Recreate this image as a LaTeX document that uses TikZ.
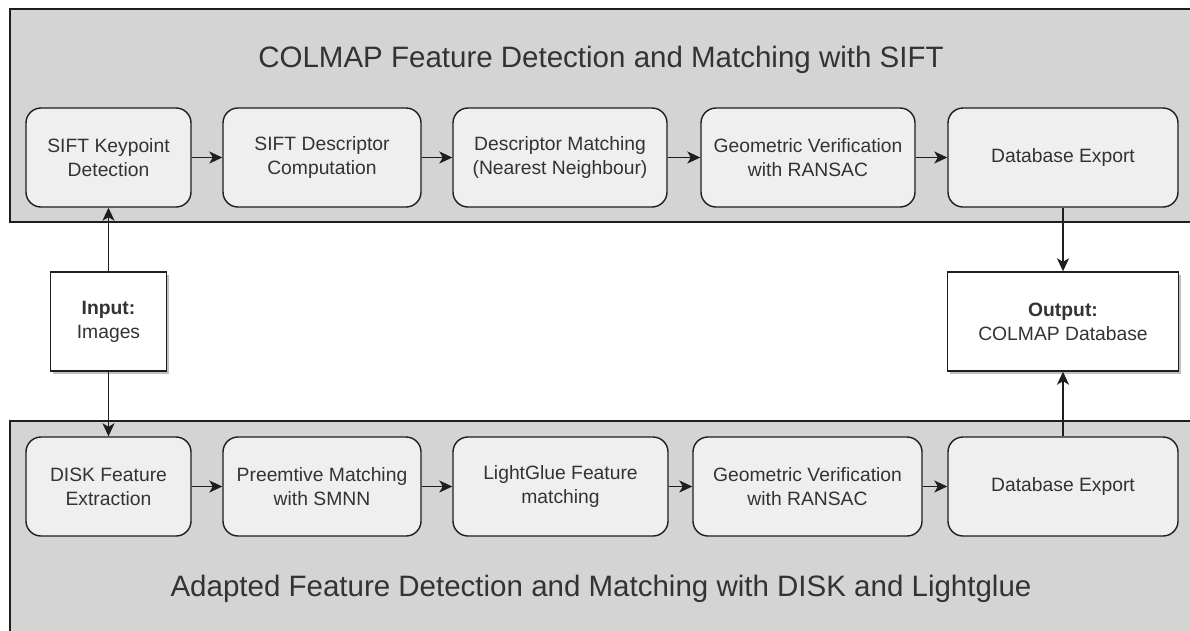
\documentclass[tikz,border=0pt]{standalone}
\usepackage{fontspec}
\setmainfont{Liberation Sans}
\usetikzlibrary{arrows.meta,shadows}
\definecolor{panelgray}{HTML}{D4D4D4}
\definecolor{boxfill}{HTML}{EFEFEF}
\definecolor{edgeink}{HTML}{1E1E1E}
\definecolor{ink}{HTML}{333333}

\begin{document}
\begin{tikzpicture}[x=1pt,y=-1pt,
  stage/.style={draw=edgeink, line width=1.4pt, fill=boxfill, rounded corners=15pt,
    align=center, text=ink, font=\fontsize{19.3}{24}\selectfont,
    inner sep=0pt, minimum height=99pt},
  iobox/.style={draw=edgeink, line width=1.4pt, fill=white,
    align=center, text=ink, font=\fontsize{19.3}{24}\selectfont,
    inner sep=0pt, minimum height=99pt,
    drop shadow={shadow xshift=2.5pt, shadow yshift=-2.5pt, opacity=0.25, fill=black}},
  panel/.style={draw=edgeink, line width=1.4pt, fill=panelgray},
  flow/.style={draw=edgeink, line width=1.6pt, -{Stealth[length=13pt,width=12pt,inset=3.5pt]}},
  paneltitle/.style={text=ink, font=\fontsize{29.5}{36}\selectfont, anchor=base, inner sep=0pt}
]
\useasboundingbox (0,0) rectangle (1190,630);

% the two grouping panels run past the right and bottom edges
\begin{scope}
  \clip (0,0) rectangle (1190,630);
  \draw[panel] (10,9) rectangle (1210,222);
  \draw[panel] (10,421) rectangle (1210,650);
\end{scope}

\node[paneltitle] (ttop) at (601,67) {COLMAP Feature Detection and Matching with SIFT};
\node[paneltitle] (tbot) at (601,596) {Adapted Feature Detection and Matching with DISK and Lightglue};

% COLMAP pipeline
\node[stage, minimum width=165pt] (sk)  at (108.5,157.5) {SIFT Keypoint\\Detection};
\node[stage, minimum width=198pt] (sd)  at (322,157.5)   {SIFT Descriptor\\Computation};
\node[stage, minimum width=214pt] (dm)  at (560,157.5)   {Descriptor Matching\\(Nearest Neighbour)};
\node[stage, minimum width=214pt] (gv1) at (808,157.5)   {Geometric Verification\\with RANSAC};
\node[stage, minimum width=230pt] (de1) at (1063,157.5)  {Database Export};

% adapted pipeline
\node[stage, minimum width=165pt] (dk)  at (108.5,486.5) {DISK Feature\\Extraction};
\node[stage, minimum width=198pt] (pm)  at (322,486.5)   {Preemtive Matching\\with SMNN};
\node[stage, minimum width=215pt] (lg)  at (560.5,486.5) {LightGlue Feature\\matching};
\node[stage, minimum width=229pt] (gv2) at (807.5,486.5) {Geometric Verification\\with RANSAC};
\node[stage, minimum width=230pt] (de2) at (1063,486.5)  {Database Export};

% input and output
\node[iobox, minimum width=116pt] (in)  at (108.5,321.5) {\textbf{Input:}\\Images};
\node[iobox, minimum width=231pt] (out) at (1063,321.5)  {\textbf{Output:}\\COLMAP Database};

\draw[flow] (sk.east) -- (sd.west);
\draw[flow] (sd.east) -- (dm.west);
\draw[flow] (dm.east) -- (gv1.west);
\draw[flow] (gv1.east) -- (de1.west);

\draw[flow] (dk.east) -- (pm.west);
\draw[flow] (pm.east) -- (lg.west);
\draw[flow] (lg.east) -- (gv2.west);
\draw[flow] (gv2.east) -- (de2.west);

\draw[flow] (in.north) -- (sk.south);
\draw[flow] (in.south) -- (dk.north);
\draw[flow] (de1.south) -- (out.north);
\draw[flow] (de2.north) -- (out.south);
\end{tikzpicture}
\end{document}
